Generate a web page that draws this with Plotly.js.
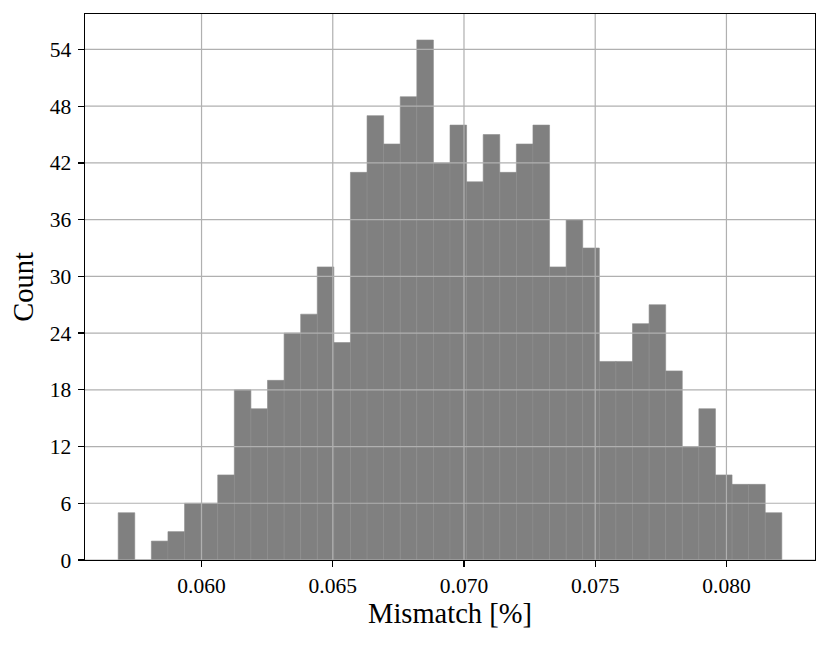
<!DOCTYPE html>
<html>
<head>
<meta charset="utf-8">
<script src="https://cdn.plot.ly/plotly-3.0.1.min.js"></script>
<style>html,body{margin:0;padding:0;background:#fff;}#chart{width:830px;height:645px;}</style>
</head>
<body>
<div id="chart"></div>
<script>
// Histogram of mismatch values (40 bins)
const binStart = 0.056824;
const binEnd = 0.08211;
const counts = [5, 0, 2, 3, 6, 6, 9, 18, 16, 19,
                24, 26, 31, 23, 41, 47, 44, 49, 55, 42,
                46, 40, 45, 41, 44, 46, 31, 36, 33, 21,
                21, 25, 27, 20, 12, 16, 9, 8, 8, 5];
const xTickVals = [0.060, 0.065, 0.070, 0.075, 0.080];
const xTickText = ["0.060", "0.065", "0.070", "0.075", "0.080"];
const yTickVals = [0, 6, 12, 18, 24, 30, 36, 42, 48, 54];
const yTickText = ["0", "6", "12", "18", "24", "30", "36", "42", "48", "54"];

const nBins = counts.length;
const binW = (binEnd - binStart) / nBins;
const centers = counts.map((_, i) => binStart + binW * (i + 0.5));
const span = binEnd - binStart;
const xRange = [binStart - 0.05 * span, binEnd + 0.05 * span];
const yMax = Math.max(...counts) * 1.05;

const font = "Liberation Serif, Times New Roman, serif";
const gridColor = "#b0b0b0";

const shapes = [];
xTickVals.forEach(v => shapes.push({type: "line", layer: "above", xref: "x", yref: "paper",
  x0: v, x1: v, y0: 0, y1: 1, line: {color: gridColor, width: 1.2}}));
yTickVals.forEach(v => shapes.push({type: "line", layer: "above", xref: "paper", yref: "y",
  x0: 0, x1: 1, y0: v, y1: v, line: {color: gridColor, width: 1.2}}));

const trace = {
  type: "bar",
  x: centers,
  y: counts,
  width: binW,
  marker: {color: "#808080", line: {color: "#8c8c8c", width: 0.6}},
  hoverinfo: "x+y"
};

const layout = {
  width: 830, height: 645,
  margin: {l: 85, r: 15, t: 14, b: 85},
  paper_bgcolor: "#fff", plot_bgcolor: "#fff",
  showlegend: false,
  bargap: 0,
  font: {family: font, color: "#000"},
  shapes: shapes,
  xaxis: {
    range: xRange,
    tickvals: xTickVals, ticktext: xTickText,
    showgrid: false, zeroline: false,
    showline: true, mirror: true, linecolor: "#000", linewidth: 1.4,
    ticks: "outside", ticklen: 6, tickwidth: 1.2, tickcolor: "#000",
    tickfont: {family: font, size: 21.5, color: "#000"},
    layer: "above traces",
    title: {text: "Mismatch [%]", font: {family: font, size: 28.5, color: "#000"}, standoff: 6}
  },
  yaxis: {
    range: [0, yMax],
    tickvals: yTickVals, ticktext: yTickText,
    showgrid: false, zeroline: false,
    showline: true, mirror: true, linecolor: "#000", linewidth: 1.4,
    ticks: "outside", ticklen: 6, tickwidth: 1.2, tickcolor: "#000",
    tickfont: {family: font, size: 21.5, color: "#000"},
    ticklabelstandoff: 2,
    layer: "above traces",
    title: {text: "Count", font: {family: font, size: 28.5, color: "#000"}, standoff: 8}
  }
};

Plotly.newPlot("chart", [trace], layout, {displayModeBar: false, staticPlot: true});
</script>
</body>
</html>
